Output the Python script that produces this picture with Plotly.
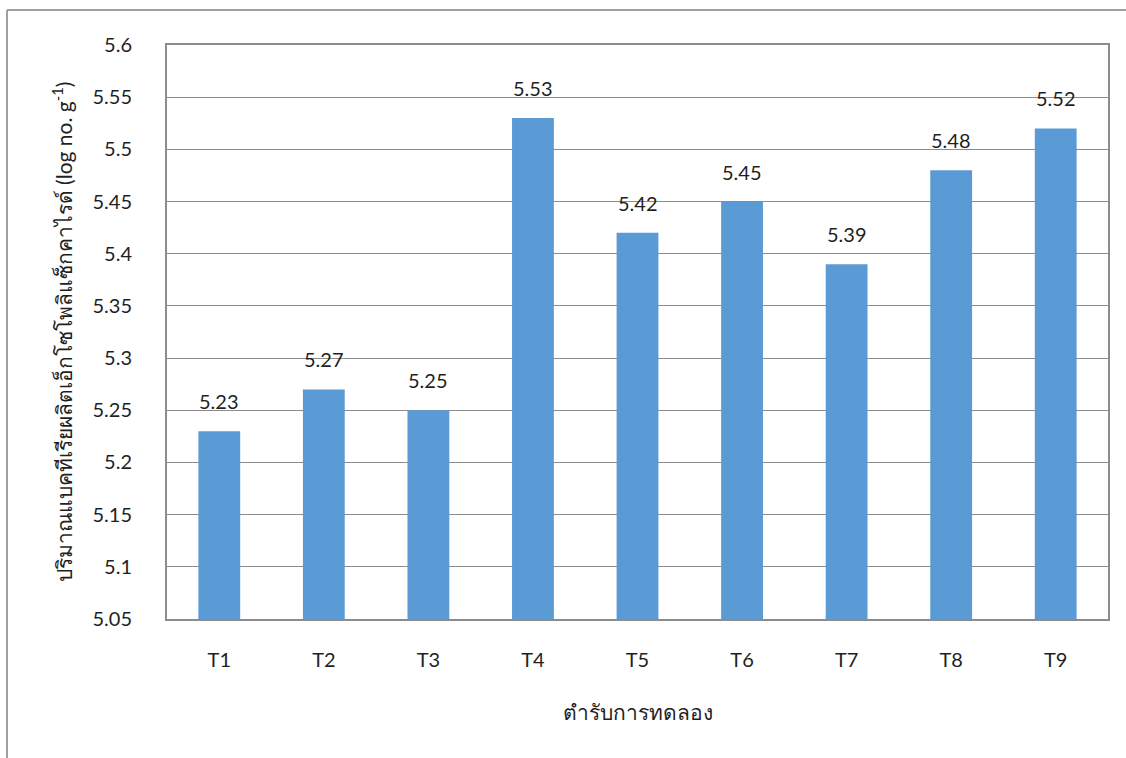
import plotly.graph_objects as go

categories = ["T1", "T2", "T3", "T4", "T5", "T6", "T7", "T8", "T9"]
values = [5.23, 5.27, 5.25, 5.53, 5.42, 5.45, 5.39, 5.48, 5.52]
y_tick_vals = [5.05, 5.1, 5.15, 5.2, 5.25, 5.3, 5.35, 5.4, 5.45, 5.5, 5.55, 5.6]
y_tick_text = ["5.05", "5.1", "5.15", "5.2", "5.25", "5.3", "5.35", "5.4", "5.45", "5.5", "5.55", "5.6"]

FONT = "Lato, Noto Sans, DejaVu Sans, sans-serif"
TXT = "#1f1f1f"
GRID = "#8c8c8c"

fig = go.Figure(go.Bar(
    x=categories, y=values, marker_color="#5B9BD5", marker_line_width=0,
    width=0.4, cliponaxis=False,
))

for c, v in zip(categories, values):
    fig.add_annotation(x=c, y=v, text=f"{v:.2f}", showarrow=False, yanchor="middle",
                       yshift=30, font=dict(size=20, color=TXT, family=FONT))

L, T, R, B = 167, 45, 1108, 619
W, H = 1126, 758
pw, ph = R - L, B - T

def px(x):
    return (x - L) / pw

def py(y):
    return (B - y) / ph

fig.update_layout(
    width=W, height=H,
    margin=dict(l=L, t=T, r=W - R, b=H - B),
    plot_bgcolor="white", paper_bgcolor="white",
    font=dict(family=FONT, color=TXT),
    showlegend=False,
    xaxis=dict(
        showgrid=False, ticks="", tickfont=dict(size=20, color=TXT),
        ticklabelstandoff=22,
        showline=True, linecolor=GRID, linewidth=2, mirror=True,
        title=dict(text="ตำรับการทดลอง", font=dict(size=21, color=TXT), standoff=35),
    ),
    yaxis=dict(
        range=[5.05, 5.6], tickvals=y_tick_vals, ticktext=y_tick_text,
        showgrid=True, gridcolor=GRID, gridwidth=1,
        tickfont=dict(size=20, color=TXT), ticks="",
        ticklabelstandoff=29,
        showline=True, linecolor=GRID, linewidth=2, mirror=True,
        zeroline=False,
        title=dict(text="ปริมาณแบคทีเรียผลิตเอ็กโซโพลิแซ็กคาไรด์ (log no. g<sup>-1</sup>)",
                   font=dict(size=21, color=TXT), standoff=14),
    ),
    shapes=[
        dict(type="line", xref="paper", yref="paper", x0=px(7), x1=px(1130), y0=py(10), y1=py(10),
             line=dict(color="#a0a0a0", width=2)),
        dict(type="line", xref="paper", yref="paper", x0=px(7), x1=px(7), y0=py(10), y1=py(770),
             line=dict(color="#a0a0a0", width=2)),
    ],
)

fig.write_html("out.html")
